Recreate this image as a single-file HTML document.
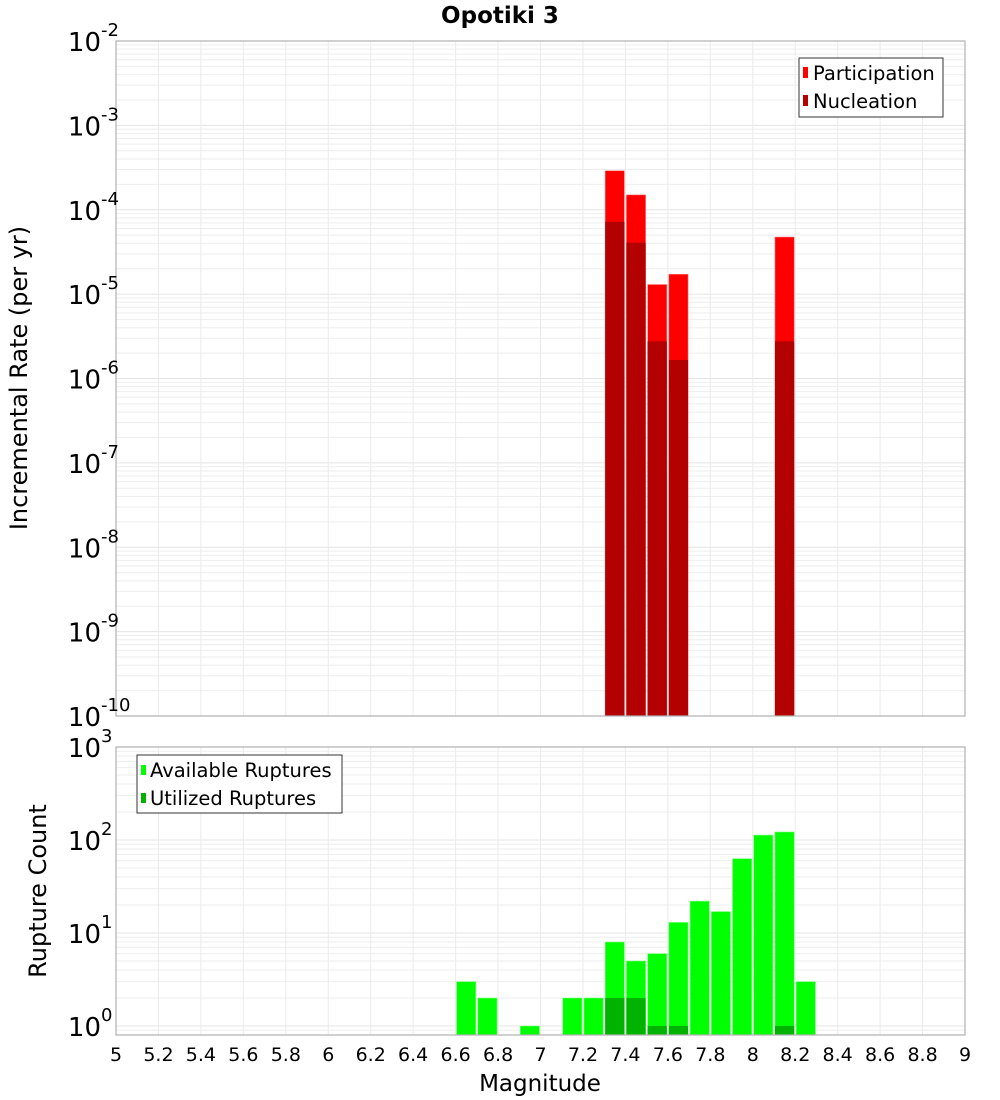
<!DOCTYPE html>
<html><head><meta charset="utf-8"><style>
body{margin:0;background:#fff;}
svg{display:block;font-family:"DejaVu Sans","Liberation Sans",sans-serif;}
</style></head><body>
<svg id="c" width="1000" height="1100" xmlns="http://www.w3.org/2000/svg"></svg>
<script>
const bins=[6.6,6.7,6.8,6.9,7.0,7.1,7.2,7.3,7.4,7.5,7.6,7.7,7.8,7.9,8.0,8.1,8.2];
const available=[3,2,0,1,0,2,2,8,5,6,13,22,17,63,113,122,3];
const utilized=[0,0,0,0,0,0,0,2,2,1,1,0,0,0,0,1,0];
const rateMags=[7.3,7.4,7.5,7.6,8.1];
const participation=[2.9e-4,1.5e-4,1.3e-5,1.72e-5,4.75e-5];
const nucleation=[7.2e-5,4.07e-5,2.76e-6,1.66e-6,2.76e-6];
const xTicks=[5,5.2,5.4,5.6,5.8,6,6.2,6.4,6.6,6.8,7,7.2,7.4,7.6,7.8,8,8.2,8.4,8.6,8.8,9];
const topExp=[-10,-9,-8,-7,-6,-5,-4,-3,-2];
const botExp=[0,1,2,3];

const NS="http://www.w3.org/2000/svg";
const svg=document.getElementById('c');
function el(t,a,p){const e=document.createElementNS(NS,t);for(const k in a)e.setAttribute(k,a[k]);(p||svg).appendChild(e);return e;}
const L=116,R=965;
const xs=m=>L+(m-5)*(R-L)/4;
const T1=41,B1=716,yTop=v=>T1+(-2-Math.log10(v))*(B1-T1)/8;
const T2=747,B2=1035,yBot=v=>1026-Math.log10(v)*93;

function grid(top,bot,yf,e0,e1,name){
  const g=el('g',{});
  
  
  for(let e=e0;e<e1;e++)for(let k=1;k<10;k++){const y=yf(k*Math.pow(10,e));if(y<top-0.5||y>bot+0.5)continue;el('line',{x1:L,x2:R,y1:y,y2:y,stroke:k==1?'#e4e4e4':'#eeeeee','stroke-width':1},g);}
  xTicks.forEach(m=>{const x=xs(m);el('line',{x1:x,x2:x,y1:top,y2:bot,stroke:'#ebebeb','stroke-width':1},g);});
}
grid(T1,B1,yTop,-10,-1,'top-grid');
grid(T2,B2,yBot,-1,3,'bottom-grid');

rateMags.forEach((m,i)=>{
  const x=xs(m)+1,w=xs(m+0.1)-xs(m)-2;
  const p=el('rect',{x:x,y:yTop(participation[i]),width:w,height:B1-yTop(participation[i]),fill:'#ff0000',stroke:'#ff8080','stroke-width':0.6});
  
  
  const n=el('rect',{x:x,y:yTop(nucleation[i]),width:w,height:B1-yTop(nucleation[i]),fill:'#b30000'});
  
  
});
bins.forEach((m,i)=>{
  const x=xs(m)+1,w=xs(m+0.1)-xs(m)-2;
  if(available[i]>0){const y=yBot(available[i]);const r=el('rect',{x:x,y:y,width:w,height:B2-y,fill:'#00ff00',stroke:'#80ff80','stroke-width':0.6});
    
    }
  if(utilized[i]>0){const y=yBot(utilized[i]);const r=el('rect',{x:x,y:y,width:w,height:B2-y,fill:'#00b300'});
    
    }
});
el('rect',{x:L,y:T1,width:R-L,height:B1-T1,fill:'none',stroke:'#b0b0b0','stroke-width':1.2});
el('rect',{x:L,y:T2,width:R-L,height:B2-T2,fill:'none',stroke:'#b0b0b0','stroke-width':1.2});
function ylab(y,e,name){
  const g=el('g',{});
  
  
  const t=el('text',{x:101,y:y+10,'text-anchor':'end','font-size':26,fill:'#000'},g);t.textContent='10';
  const s=el('text',{x:101,y:y-5,'font-size':18,fill:'#000'},g);s.textContent=String(e);
}
topExp.forEach(e=>ylab(yTop(Math.pow(10,e)),e,'top-y-tick-label'));
botExp.forEach(e=>ylab(yBot(Math.pow(10,e)),e,'bottom-y-tick-label'));
xTicks.forEach(m=>{const t=el('text',{x:xs(m),y:1061,'text-anchor':'middle','font-size':19,fill:'#000'});t.textContent=String(m);
  
  });
</script>
<svg width="1000" height="1100" style="position:absolute;left:0;top:0" xmlns="http://www.w3.org/2000/svg">
<text x="500" y="23" text-anchor="middle" font-size="23" font-weight="bold">Opotiki 3</text>
<text x="540" y="1091" text-anchor="middle" font-size="23">Magnitude</text>
<text transform="translate(27,378) rotate(-90)" text-anchor="middle" font-size="24">Incremental Rate (per yr)</text>
<text transform="translate(46,891) rotate(-90)" text-anchor="middle" font-size="24">Rupture Count</text>
<g>
<rect x="799" y="58" width="144" height="59" fill="#fff" stroke="#333" stroke-width="1"/>
<rect x="803" y="67" width="5" height="11" fill="#ff0000"/>
<text x="813" y="80" font-size="19.5">Participation</text>
<rect x="803" y="95" width="5" height="11" fill="#b30000"/>
<text x="813" y="108" font-size="19.5">Nucleation</text>
</g>
<g>
<rect x="137" y="755" width="205" height="58" fill="#fff" stroke="#333" stroke-width="1"/>
<rect x="141" y="765" width="5" height="10" fill="#00ff00"/>
<text x="150" y="777" font-size="19.5">Available Ruptures</text>
<rect x="141" y="793" width="5" height="10" fill="#00b300"/>
<text x="150" y="805" font-size="19.5">Utilized Ruptures</text>
</g>
</svg>
</body></html>
